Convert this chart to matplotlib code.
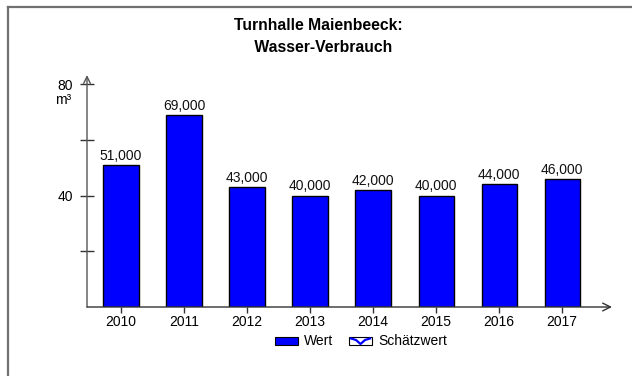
import matplotlib
matplotlib.use("Agg")
import matplotlib.pyplot as plt
from matplotlib.patches import Rectangle
from matplotlib.lines import Line2D
from matplotlib.ticker import FuncFormatter

plt.rcParams['font.family'] = ['Liberation Sans', 'DejaVu Sans']

years = ["2010", "2011", "2012", "2013", "2014", "2015", "2016", "2017"]
values = [51000, 69000, 43000, 40000, 42000, 40000, 44000, 46000]
value_labels = ["51,000", "69,000", "43,000", "40,000", "42,000", "40,000", "44,000", "46,000"]
title_lines = ["Turnhalle Maienbeeck:", " Wasser-Verbrauch"]
unit = "m³"
legend_labels = ["Wert", "Schätzwert"]

W, H = 632, 376
FS = 10
fig = plt.figure(figsize=(W / 100, H / 100), dpi=100)

def fx(px):
    return px / W

def fy(py):
    return 1 - py / H

# outer frame (open on the right and bottom)
fig.add_artist(Line2D([fx(8), fx(8)], [fy(7), fy(380)], color="#707070", lw=1.6))
fig.add_artist(Line2D([fx(8), fx(640)], [fy(7), fy(7)], color="#707070", lw=1.6))

ax = fig.add_axes([fx(87), fy(307), fx(612) - fx(87), fy(84) - fy(307)])
x = list(range(len(years)))
ax.bar(x, values, width=0.56, color="#0000FF", edgecolor="black", linewidth=1.0, zorder=3)
for xi, v, lab in zip(x, values, value_labels):
    ax.annotate(lab, (xi, v), xytext=(0, 1.5), textcoords="offset points",
                ha="center", va="bottom", fontsize=FS, color="#111111")

ax.set_xlim(-0.54, 7.79)
ax.set_ylim(0, 80000)
for s in ax.spines.values():
    s.set_visible(False)

# axes with arrow heads
ax.annotate("", xy=(0, 1.04), xytext=(0, 0), xycoords="axes fraction",
            arrowprops=dict(arrowstyle="->", color="#555555", lw=1.0,
                            shrinkA=0, shrinkB=0, mutation_scale=12), annotation_clip=False)
ax.annotate("", xy=(1.0, 0), xytext=(0, 0), xycoords="axes fraction",
            arrowprops=dict(arrowstyle="->", color="#333333", lw=1.0,
                            shrinkA=0, shrinkB=0, mutation_scale=14), annotation_clip=False)

ax.set_yticks([20000, 40000, 60000, 80000])
ax.yaxis.set_major_formatter(FuncFormatter(
    lambda v, p: f"{int(v / 1000)}" if v in (40000, 80000) else ""))
ax.tick_params(axis="y", direction="inout", length=10, width=1.0, color="#333333",
               labelsize=FS, pad=5)
ax.set_xticks(x)
ax.set_xticklabels(years)
ax.tick_params(axis="x", direction="out", length=4, width=1.0, color="#333333",
               labelsize=FS, pad=2)

fig.text(fx(63), fy(100), unit, ha="center", va="center", fontsize=FS)

fig.text(fx(318), fy(25), title_lines[0], ha="center", va="center", fontsize=11.3,
         fontweight="bold")
fig.text(fx(321), fy(48), title_lines[1], ha="center", va="center", fontsize=11.3,
         fontweight="bold")

# legend
fig.add_artist(Rectangle((fx(275), fy(345)), fx(298) - fx(275), fy(337) - fy(345),
                         facecolor="#0000FF", edgecolor="black", lw=0.8))
fig.text(fx(304), fy(341), legend_labels[0], ha="left", va="center", fontsize=FS)
fig.add_artist(Rectangle((fx(349), fy(345)), fx(372) - fx(349), fy(337) - fy(345),
                         facecolor="white", edgecolor="black", lw=0.8))
fig.add_artist(Line2D([fx(351), fx(356), fx(360.5), fx(365), fx(370)],
                      [fy(338.5), fy(340), fy(344), fy(340), fy(338.5)],
                      color="#0000FF", lw=1.6))
fig.text(fx(378), fy(341), legend_labels[1], ha="left", va="center", fontsize=FS)

fig.savefig("out.png", dpi=100)
